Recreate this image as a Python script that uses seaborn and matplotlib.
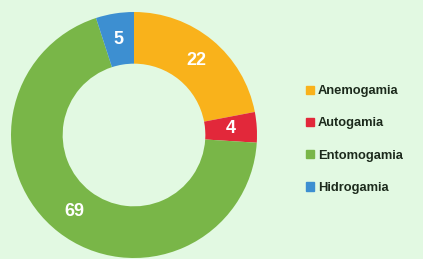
import matplotlib
matplotlib.use('Agg')
import matplotlib.pyplot as plt
import matplotlib.patches as mpatches
import seaborn as sns

categorias = ['Anemogamia', 'Autogamia', 'Entomogamia', 'Hidrogamia']
valores = [22, 4, 69, 5]
cores = ['#f9b21b', '#e2283a', '#79b648', '#3d8fd1']

FUNDO = '#e2f9e2'


def main():
    sns.set_theme(style='white')
    plt.rcParams['font.family'] = ['Liberation Sans', 'DejaVu Sans']

    fig = plt.figure(figsize=(4.23, 2.59), dpi=100, facecolor=FUNDO)
    ax = fig.add_axes([11 / 423, 1 / 259, 246 / 423, 246 / 259])
    ax.set_facecolor(FUNDO)

    paleta = sns.color_palette(cores)
    wedges, _, textos = ax.pie(
        valores,
        colors=paleta,
        startangle=90,
        counterclock=False,
        radius=1.0,
        autopct=lambda p: f'{p:.0f}',
        pctdistance=0.79,
        wedgeprops=dict(width=0.42, linewidth=0),
        textprops=dict(color='white', fontsize=13, fontweight='bold'),
    )
    ax.set_xlim(-1, 1)
    ax.set_ylim(-1, 1)
    ax.set_aspect('equal')
    ax.axis('off')

    handles = [mpatches.Patch(color=c, label=l) for c, l in zip(paleta, categorias)]
    leg = fig.legend(
        handles=handles,
        loc='upper left',
        bbox_to_anchor=(301 / 423, 1 - 80 / 259),
        frameon=False,
        fontsize=9.3,
        handlelength=0.6,
        handleheight=0.6,
        handletextpad=0.3,
        labelspacing=1.57,
        borderaxespad=0,
    )
    for t in leg.get_texts():
        t.set_fontweight('bold')
        t.set_color('#1c2a1c')

    fig.savefig('out.png', dpi=100, facecolor=FUNDO)
    plt.close(fig)


if __name__ == '__main__':
    main()
